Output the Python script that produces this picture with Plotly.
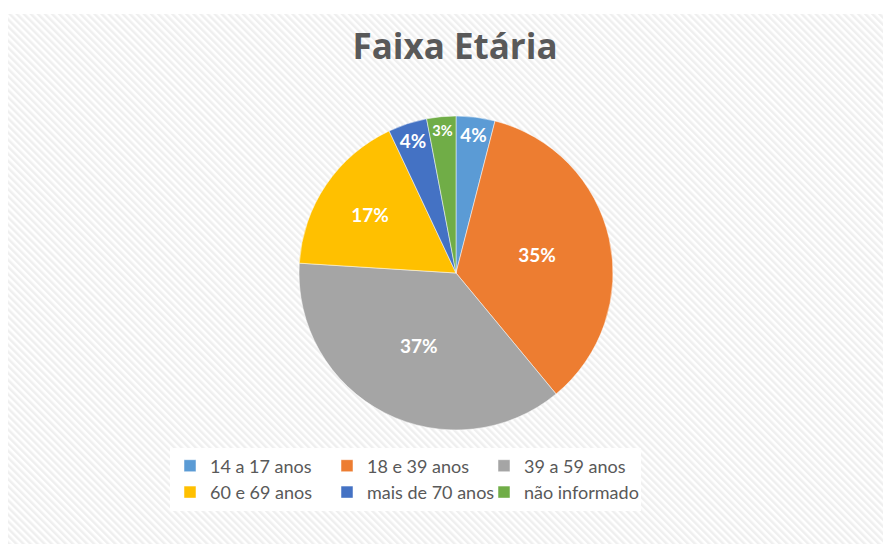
import urllib.parse
import plotly.graph_objects as go

# dados
faixas = ['14 a 17 anos', '18 e 39 anos', '39 a 59 anos',
          '60 e 69 anos', 'mais de 70 anos', 'não informado']
percentuais = [4, 35, 37, 17, 4, 3]
cores = ['#5B9BD5', '#ED7D31', '#A5A5A5', '#FFC000', '#4472C4', '#70AD47']

W, H = 891, 544
ML, MR, MT, MB = 162, 229, 60, 44
pw, ph = W - ML - MR, H - MT - MB

def px_x(p):
    return (p - ML) / pw

def px_y(p):
    return 1 - (p - MT) / ph

# fundo listrado (estilo Excel)
svg = ('<svg xmlns="http://www.w3.org/2000/svg" width="891" height="538">'
       '<defs><pattern id="p" width="5" height="5" patternUnits="userSpaceOnUse" '
       'patternTransform="rotate(-45)"><rect width="5" height="5" fill="#FFFFFF"/>'
       '<rect width="2.5" height="5" fill="#EFEFEF"/></pattern></defs>'
       '<rect width="891" height="538" fill="url(#p)"/></svg>')
bg_src = 'data:image/svg+xml;charset=utf-8,' + urllib.parse.quote(svg)

fig = go.Figure(go.Pie(
    labels=faixas,
    values=percentuais,
    sort=False,
    direction='clockwise',
    rotation=0,
    marker=dict(colors=cores, line=dict(color='white', width=0.5)),
    textinfo='percent',
    textposition='inside',
    insidetextorientation='horizontal',
    textfont=dict(family='Lato', size=19, color='white', weight='bold'),
    domain=dict(x=[px_x(291), px_x(605)], y=[px_y(422), px_y(108)]),
))

fig.update_layout(
    width=W, height=H,
    margin=dict(l=ML, r=MR, t=MT, b=MB),
    paper_bgcolor='white',
    plot_bgcolor='white',
    title=dict(text='<b>Faixa Etária</b>', x=447 / W, xanchor='center',
               y=1 - 39 / H, yanchor='middle',
               font=dict(family='Open Sans', size=35, color='#595959')),
    legend=dict(orientation='h', x=0, xanchor='left',
                y=px_y(471), yanchor='middle',
                entrywidth=112, entrywidthmode='pixels',
                bgcolor='white',
                font=dict(family='Lato', size=18, color='#595959')),
    images=[dict(source=bg_src, xref='paper', yref='paper',
                 x=px_x(0), y=px_y(6), sizex=W / pw, sizey=(H - 6) / ph,
                 xanchor='left', yanchor='top', sizing='stretch', layer='below')],
)

fig.write_html('out.html')
